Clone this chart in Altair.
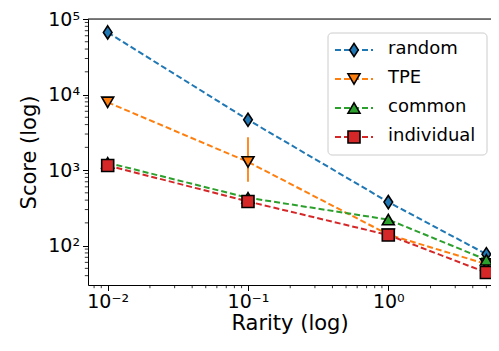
import altair as alt
import pandas as pd

rarity = [0.01, 0.1, 1.0, 5.0]
series_names = ["random", "TPE", "common", "individual"]
random_vals = [66400, 4630, 377, 77]
tpe_vals = [7890, 1283, 140, 57]
common_vals = [1250, 430, 221, 65]
individual_vals = [1150, 384, 138, 44]
err_x = [0.1]
err_lo = [703]
err_hi = [2720]
colors = ["#1f77b4", "#ff7f0e", "#2ca02c", "#d62728"]
diamond = "M0,-1.1L0.72,0L0,1.1L-0.72,0Z"
shapes = [diamond, "triangle-down", "triangle-up", "square"]

x_major = [0.01, 0.1, 1.0]
y_major = [100, 1000, 10000, 100000]
x_minor = [0.008, 0.009] + [k * 0.01 for k in range(2, 10)] + [k * 0.1 for k in range(2, 10)] + [2, 3, 4, 5]
y_minor = [40, 50, 60, 70, 80, 90] + [k * 100 for k in range(2, 10)] + [k * 1000 for k in range(2, 10)] + [k * 10000 for k in range(2, 10)]

rows = []
for name, vals in zip(series_names, [random_vals, tpe_vals, common_vals, individual_vals]):
    for xv, yv in zip(rarity, vals):
        rows.append({"series": name, "rarity": xv, "score": yv})
df = pd.DataFrame(rows)
err_df = pd.DataFrame({"rarity": err_x, "lo": err_lo, "hi": err_hi, "series": ["TPE"]})
leg_df = pd.DataFrame({"series": series_names, "row": list(range(4))})

W, H = 403, 266
FONT = "DejaVu Sans"

xscale = alt.Scale(type="log", domain=[0.007239, 5.395], nice=False, zero=False)
yscale = alt.Scale(type="log", domain=[30.1, 100000], nice=False, zero=False)
cscale = alt.Scale(domain=series_names, range=colors)
sscale = alt.Scale(domain=series_names, range=shapes)

xaxis = alt.Axis(values=x_major, title="Rarity (log)", grid=False,
                 labelExpr="datum.value < 0.05 ? '10⁻²' : (datum.value < 0.5 ? '10⁻¹' : '10⁰')",
                 labelFontSize=19, titleFontSize=21, labelFont=FONT, titleFont=FONT,
                 labelColor="black", titleColor="black", titleFontWeight="normal",
                 tickSize=5.5, tickColor="black", domainColor="black", labelPadding=2,
                 titlePadding=1, labelFlush=False)
yaxis = alt.Axis(values=y_major, title="Score (log)", grid=False,
                 labelExpr="'10' + ['⁰','¹','²','³','⁴','⁵'][round(log(datum.value)/LN10)]",
                 labelFontSize=19, titleFontSize=21, labelFont=FONT, titleFont=FONT,
                 labelColor="black", titleColor="black", titleFontWeight="normal",
                 tickSize=5.5, tickColor="black", domainColor="black", labelPadding=3,
                 titlePadding=8, labelFlush=False)

lines = alt.Chart(df).mark_line(strokeDash=[6, 3], strokeWidth=2).encode(
    x=alt.X("rarity:Q", scale=xscale, axis=xaxis),
    y=alt.Y("score:Q", scale=yscale, axis=yaxis),
    color=alt.Color("series:N", scale=cscale, legend=None),
    detail="series:N",
)
errs = alt.Chart(err_df).mark_rule(strokeWidth=1.8).encode(
    x=alt.X("rarity:Q", scale=xscale),
    y=alt.Y("lo:Q", scale=yscale),
    y2="hi:Q",
    color=alt.Color("series:N", scale=cscale, legend=None),
)
points = alt.Chart(df).mark_point(filled=True, stroke="black", strokeWidth=1.6, opacity=1, size=144).encode(
    x=alt.X("rarity:Q", scale=xscale),
    y=alt.Y("score:Q", scale=yscale),
    color=alt.Color("series:N", scale=cscale, legend=None),
    shape=alt.Shape("series:N", scale=sscale, legend=None),
)
yminor = alt.Chart(pd.DataFrame({"v": y_minor})).mark_rule(color="black", strokeWidth=0.8).encode(
    y=alt.Y("v:Q", scale=yscale), x=alt.value(0), x2=alt.value(-3.2))
xminor = alt.Chart(pd.DataFrame({"v": x_minor})).mark_rule(color="black", strokeWidth=0.8).encode(
    x=alt.X("v:Q", scale=xscale), y=alt.value(H), y2=alt.value(H + 3.2))
topspine = alt.Chart(pd.DataFrame({"a": [0]})).mark_rule(color="black", strokeWidth=1).encode(
    x=alt.value(0), x2=alt.value(W), y=alt.value(0))

data_layer = alt.layer(yminor, xminor, topspine, lines, errs, points)

lyscale = alt.Scale(domain=[0, 3], range=[31, 118])
box = alt.Chart(pd.DataFrame({"a": [0]})).mark_rect(
    fill="white", fillOpacity=0.85, stroke="#cccccc", strokeWidth=1, cornerRadius=4).encode(
    x=alt.value(240), x2=alt.value(399), y=alt.value(14), y2=alt.value(136))
leg_lines = alt.Chart(leg_df).mark_rule(strokeDash=[6, 3], strokeWidth=2).encode(
    x=alt.value(247), x2=alt.value(285),
    y=alt.Y("row:Q", scale=lyscale, axis=None),
    color=alt.Color("series:N", scale=cscale, legend=None),
)
leg_pts = alt.Chart(leg_df).mark_point(filled=True, stroke="black", strokeWidth=1.6, opacity=1, size=144).encode(
    x=alt.value(266),
    y=alt.Y("row:Q", scale=lyscale, axis=None),
    color=alt.Color("series:N", scale=cscale, legend=None),
    shape=alt.Shape("series:N", scale=sscale, legend=None),
)
leg_text = alt.Chart(leg_df).mark_text(align="left", baseline="middle", fontSize=18, font=FONT, color="black", dy=-1).encode(
    x=alt.value(300),
    y=alt.Y("row:Q", scale=lyscale, axis=None),
    text="series:N",
)
legend_layer = alt.layer(box, leg_lines, leg_pts, leg_text)

chart = alt.layer(data_layer, legend_layer).resolve_scale(y="independent").properties(
    width=W, height=H,
    autosize=alt.AutoSizeParams(type="none"),
    padding={"left": 80, "top": 11, "right": 0, "bottom": 52},
).configure_view(stroke=None).configure(background="white")

chart.save("out.html", embed_options={"renderer": "svg", "actions": False})
